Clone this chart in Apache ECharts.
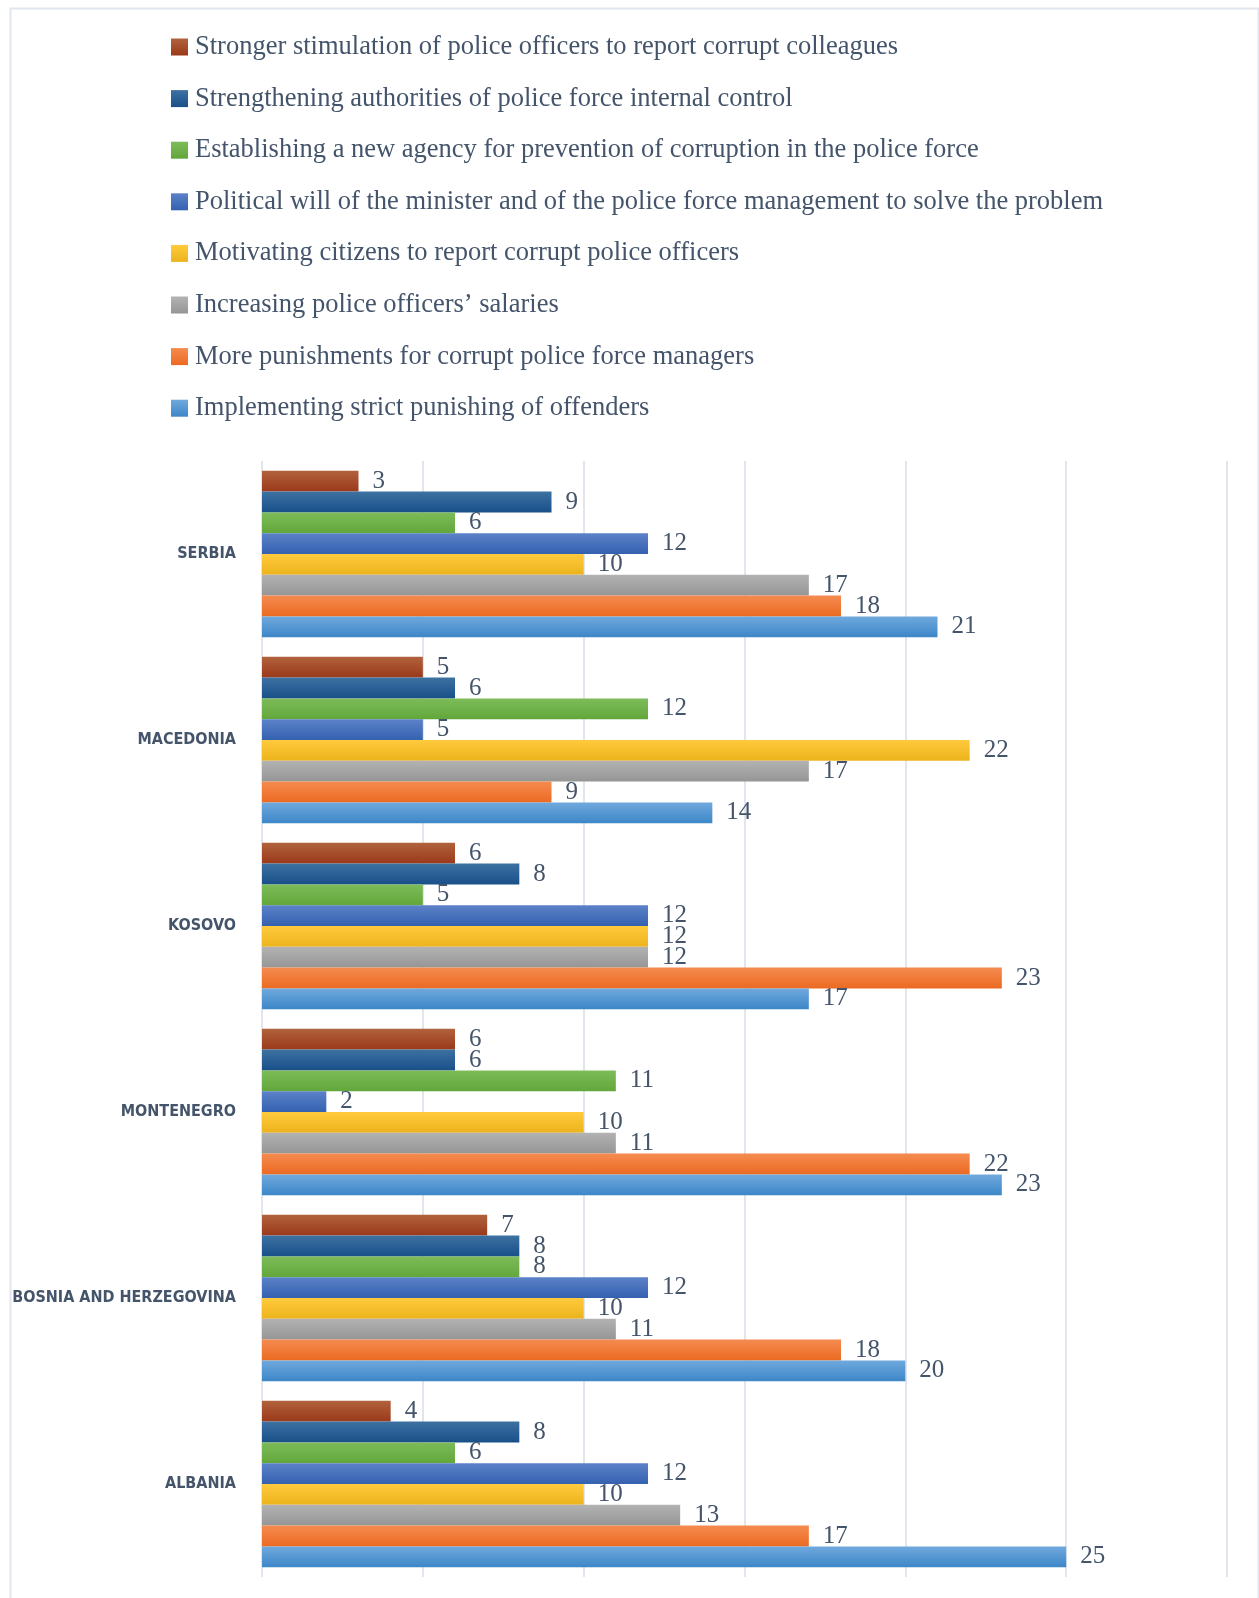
<!DOCTYPE html>
<html>
<head>
<meta charset="utf-8">
<script src="https://cdn.jsdelivr.net/npm/echarts@6/dist/echarts.min.js"></script>
<style>
  html, body { margin: 0; padding: 0; background: #ffffff; }
  #chart { width: 1259px; height: 1598px; }
</style>
</head>
<body>
<div id="chart"></div>
<script>
// Countries, top to bottom
const countries = ['SERBIA', 'MACEDONIA', 'KOSOVO', 'MONTENEGRO', 'BOSNIA AND HERZEGOVINA', 'ALBANIA'];

// Measure names (legend order, also bar order inside each country group)
const measures = [
  'Stronger stimulation of police officers to report corrupt colleagues',
  'Strengthening authorities of police force internal control',
  'Establishing a new agency for prevention of corruption in the police force',
  'Political will of the minister and of the police force management to solve the problem',
  'Motivating citizens to report corrupt police officers',
  'Increasing police officers\u2019 salaries',
  'More punishments for corrupt police force managers',
  'Implementing strict punishing of offenders'
];

// Values per measure, in country order
const strongerStimulation = [3, 5, 6, 6, 7, 4];
const strengtheningControl = [9, 6, 8, 6, 8, 8];
const newAgency = [6, 12, 5, 11, 8, 6];
const politicalWill = [12, 5, 12, 2, 12, 12];
const motivatingCitizens = [10, 22, 12, 10, 10, 10];
const higherSalaries = [17, 17, 12, 11, 11, 13];
const punishManagers = [18, 9, 23, 22, 18, 17];
const strictPunishing = [21, 14, 17, 23, 20, 25];

const seriesValues = [
  strongerStimulation, strengtheningControl, newAgency, politicalWill,
  motivatingCitizens, higherSalaries, punishManagers, strictPunishing
];

// Top/bottom gradient shades for each measure
const shades = [
  ['#b1623d', '#9a391a'],
  ['#3c71a1', '#195089'],
  ['#7dbc5a', '#62a73a'],
  ['#5c82c8', '#3461b0'],
  ['#ffca3c', '#ecb31c'],
  ['#b3b3b3', '#959595'],
  ['#f58b50', '#ec6a22'],
  ['#70a9dd', '#3c87c8']
];

const textColor = '#44546a';
const gridColor = '#e1e6ee';

function gradient(pair) {
  return new echarts.graphic.LinearGradient(0, 0, 0, 1, [
    { offset: 0, color: pair[0] },
    { offset: 1, color: pair[1] }
  ]);
}

const chart = echarts.init(document.getElementById('chart'), null, { renderer: 'canvas' });

chart.setOption({
  backgroundColor: '#ffffff',
  animation: false,
  graphic: [{
    type: 'rect',
    left: 8, top: 6,
    shape: { width: 1248, height: 1640 },
    style: { fill: 'none', stroke: gridColor, lineWidth: 2 },
    silent: true,
    z: -10
  }],
  legend: {
    orient: 'vertical',
    left: 171,
    top: 32,
    padding: 0,
    itemWidth: 17,
    itemHeight: 17,
    itemGap: 21.6,
    icon: 'rect',
    data: measures,
    textStyle: {
      fontFamily: 'Liberation Serif, serif',
      fontSize: 26.5,
      color: textColor,
      lineHeight: 30,
      padding: [0, 0, 0, 2]
    }
  },
  grid: {
    left: 262, right: 32, top: 461, bottom: 21,
    containLabel: false,
    outerBoundsMode: 'none'
  },
  xAxis: {
    type: 'value',
    min: 0,
    max: 30,
    interval: 5,
    axisLine: { show: false },
    axisTick: { show: false },
    axisLabel: { show: false },
    splitLine: { show: true, lineStyle: { color: gridColor, width: 2 } }
  },
  yAxis: {
    type: 'category',
    inverse: true,
    data: countries,
    axisLine: { show: false },
    axisTick: { show: false },
    axisLabel: {
      margin: 26,
      fontFamily: 'Liberation Sans Narrow, DejaVu Sans Condensed, sans-serif',
      fontWeight: 'bold',
      fontSize: 16,
      color: textColor
    }
  },
  series: measures.map((name, i) => ({
    name: name,
    type: 'bar',
    data: seriesValues[i],
    barGap: '0%',
    barCategoryGap: '10.5%',
    itemStyle: { color: gradient(shades[i]) },
    label: {
      show: true,
      position: 'right',
      distance: 14,
      fontFamily: 'Liberation Serif, serif',
      fontSize: 25,
      color: textColor
    }
  }))
});
</script>
</body>
</html>
